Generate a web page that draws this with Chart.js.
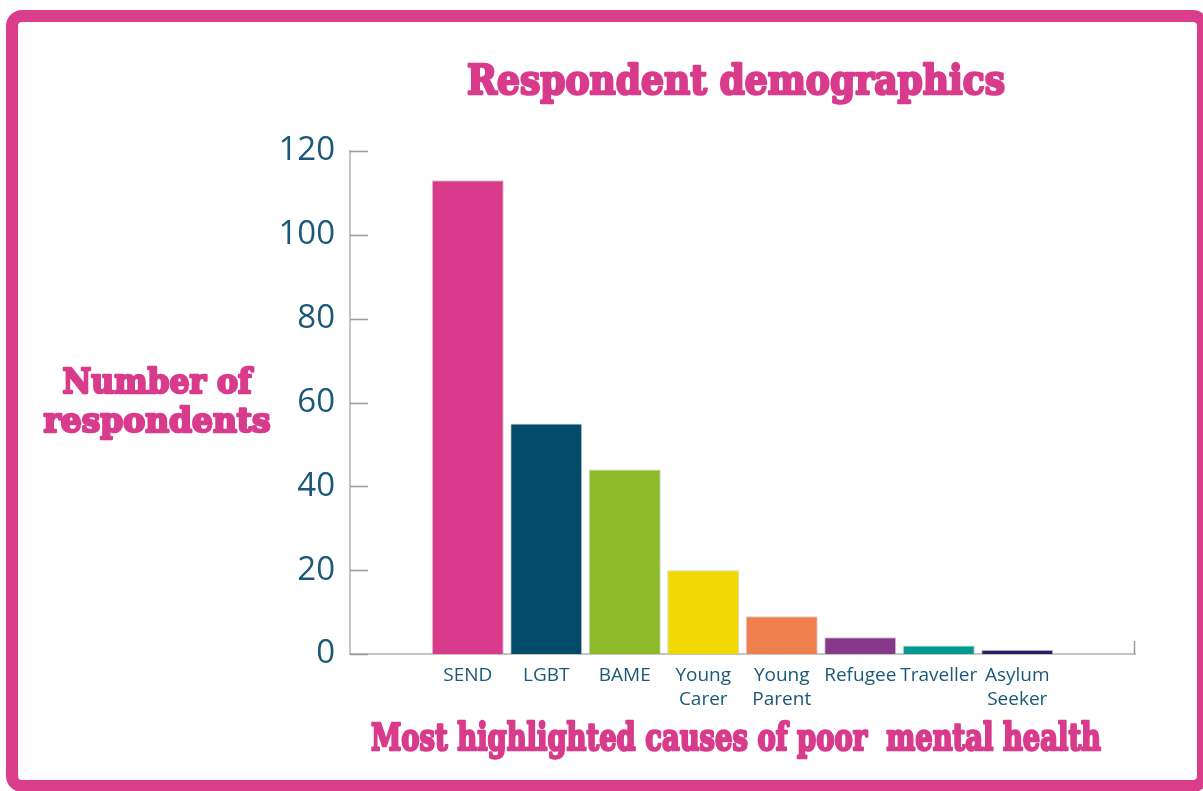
<!DOCTYPE html>
<html lang="en">
<head>
  <meta charset="utf-8">
  <title>Respondent demographics</title>
  <script src="https://cdn.jsdelivr.net/npm/chart.js"></script>
  <style>
    html, body { margin: 0; padding: 0; background: #fff; overflow: hidden; }
    .frame {
      position: absolute; left: 6px; top: 10px; width: 1179px; height: 758px;
      border: 12px solid #d93d8b; border-radius: 16px;
    }
    .chart-box { position: absolute; left: 0; top: 0; width: 1203px; height: 791px; }
  </style>
</head>
<body>
  <div class="frame"></div>
  <div class="chart-box"><canvas id="demoChart"></canvas></div>

  <script>
    const categories = ['SEND', 'LGBT', 'BAME', ['Young', 'Carer'], ['Young', 'Parent'], 'Refugee', 'Traveller', ['Asylum', 'Seeker']];
    const respondents = [113, 55, 44, 20, 9, 4, 2, 1];
    const barColors = ['#d93a8b', '#034c69', '#8cbb29', '#f0d903', '#ef7f4c', '#883888', '#009a92', '#2b1c63'];
    const yTicks = [0, 20, 40, 60, 80, 100, 120];

    const pink = '#d93b8c';
    const navy = '#1b5877';
    const slab = "'DejaVu Serif', serif";

    // one empty slot either side of the bars
    const labels = [''].concat(categories, ['']);
    const values = [null].concat(respondents, [null]);
    const colors = ['#fff'].concat(barColors, ['#fff']);

    // heavy slab headings, squeezed to width and thickened with a stroke
    function slabText(ctx, text, cx, baseline, width, size) {
      ctx.save();
      ctx.font = 'bold ' + size + 'px ' + slab;
      const w = ctx.measureText(text).width;
      ctx.translate(cx, baseline);
      ctx.scale(width / w, 1);
      ctx.textAlign = 'center';
      ctx.textBaseline = 'alphabetic';
      ctx.fillStyle = pink;
      ctx.strokeStyle = pink;
      ctx.lineWidth = 2.6;
      ctx.lineJoin = 'round';
      ctx.strokeText(text, 0, 0);
      ctx.fillText(text, 0, 0);
      ctx.restore();
    }

    const headings = {
      id: 'headings',
      afterDraw(chart) {
        const ctx = chart.ctx;
        slabText(ctx, 'Respondent demographics', 736, 94, 538, 41);
        slabText(ctx, 'Most highlighted causes of poor  mental health', 736, 750, 730, 38);
        slabText(ctx, 'Number of', 157, 393, 189, 34);
        slabText(ctx, 'respondents', 157, 432, 227, 34);
      }
    };

    // short tick marks pointing into the plot area
    const innerTicks = {
      id: 'innerTicks',
      afterDatasetsDraw(chart) {
        const ctx = chart.ctx;
        const y = chart.scales.y;
        const x = chart.scales.x;
        ctx.save();
        ctx.strokeStyle = '#9a9a9a';
        ctx.lineWidth = 1.5;
        ctx.beginPath();
        y.ticks.forEach(t => {
          const py = Math.round(y.getPixelForValue(t.value)) + 0.5;
          ctx.moveTo(x.left, py);
          ctx.lineTo(x.left + 18, py);
        });
        ctx.moveTo(x.right - 0.5, y.bottom);
        ctx.lineTo(x.right - 0.5, y.bottom - 13);
        ctx.stroke();
        ctx.restore();
      }
    };

    new Chart(document.getElementById('demoChart'), {
      type: 'bar',
      data: {
        labels: labels,
        datasets: [{
          label: 'Number of respondents',
          data: values,
          backgroundColor: colors,
          borderColor: 'rgba(185,185,185,0.7)',
          borderWidth: 1,
          barPercentage: 0.917,
          categoryPercentage: 1
        }]
      },
      options: {
        responsive: true,
        maintainAspectRatio: false,
        animation: false,
        layout: { padding: { left: 0, right: 68, top: 151, bottom: 0 } },
        plugins: {
          legend: { display: false },
          title: { display: false },
          tooltip: { enabled: false }
        },
        scales: {
          x: {
            grid: { display: false, drawTicks: false },
            border: { color: '#c4c4c4', width: 2 },
            ticks: {
              color: navy,
              font: { family: "'Open Sans', sans-serif", size: 19, lineHeight: 1.25 },
              padding: 10,
              maxRotation: 0,
              autoSkip: false
            },
            afterFit(scale) { scale.height = 137; }
          },
          y: {
            min: 0,
            max: 120,
            grid: { display: false, drawTicks: false },
            border: { color: '#c4c4c4', width: 2 },
            afterBuildTicks(scale) { scale.ticks = yTicks.map(v => ({ value: v })); },
            ticks: {
              color: navy,
              font: { family: "'Open Sans', sans-serif", size: 33 },
              padding: 15
            },
            afterFit(scale) { scale.width = 350; }
          }
        }
      },
      plugins: [headings, innerTicks]
    });
  </script>
</body>
</html>
